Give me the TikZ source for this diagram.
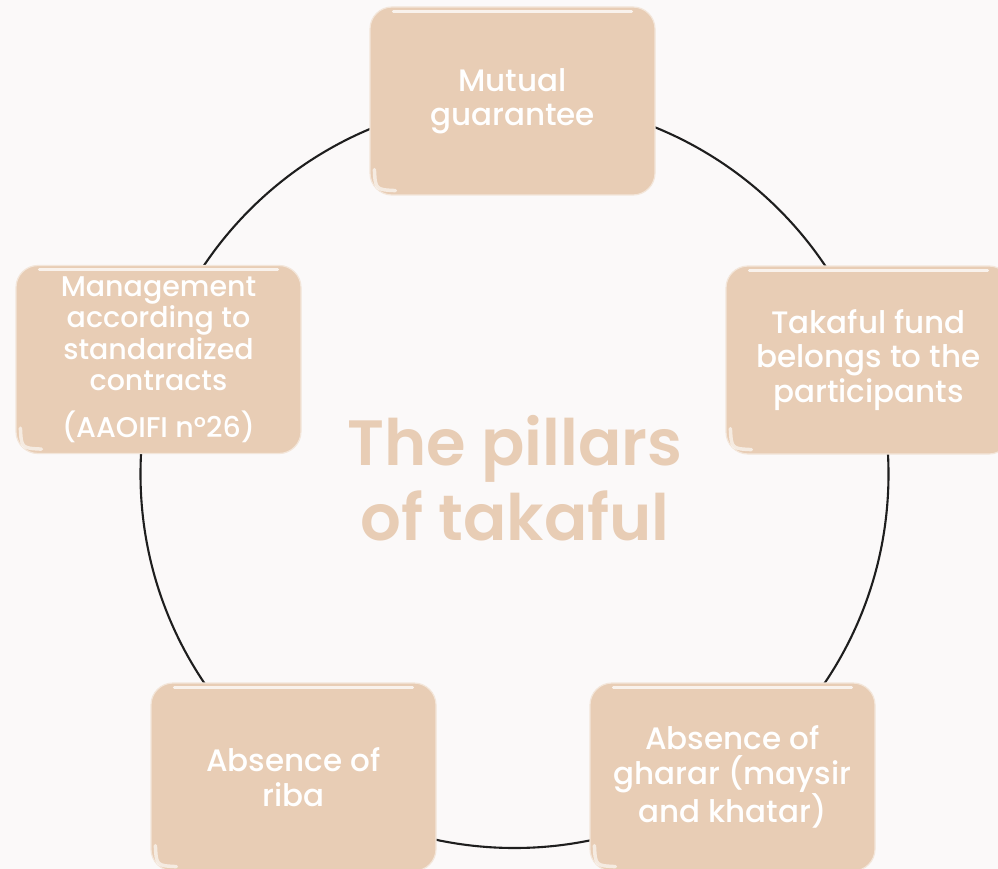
\documentclass[tikz,border=0pt]{standalone}
\usepackage{fontspec}
\setmainfont{Poppins}
\newfontfamily\medfont{Poppins Medium}
\newfontfamily\semifont{Poppins SemiBold}
\definecolor{bg}{HTML}{FBF9F9}
\definecolor{boxfill}{HTML}{E8CDB5}
\definecolor{titlecol}{HTML}{E8CDB5}
\definecolor{rim}{HTML}{F3E6DA}
\definecolor{ringcol}{HTML}{1E1E1E}
\begin{document}
\begin{tikzpicture}[x=1pt,y=-1pt,
  pillar/.style={draw=rim, line width=1.2pt, fill=boxfill, rounded corners=22pt,
    minimum width=285pt, minimum height=188pt, inner sep=0pt, align=center,
    text=white, font=\medfont\fontsize{31}{34.5}\selectfont},
  smallpillar/.style={pillar, font=\medfont\fontsize{28.5}{31.5}\selectfont},
  shine/.style={white, line width=3pt, opacity=0.75, line cap=round},
  gloss/.style={white, line width=3.5pt, opacity=0.6, line cap=round},
  ring/.style={ringcol, line width=2.1pt}]
\useasboundingbox (0,0) rectangle (998,869);
\clip (0,0) rectangle (998,869);
\fill[bg] (0,0) rectangle (998,869);
\coordinate (center) at (514.5,474);
\draw[ring] (center) circle[radius=374];
\node[font=\semifont\fontsize{64}{75}\selectfont, text=titlecol, align=center] (title) at (515,478) {The pillars\\of takaful};
\node[pillar] (top) at (512.5,101) {Mutual\\guarantee};
\node[pillar] (right) at (868.5,360) {Takaful fund\\belongs to the\\participants};
\node[pillar] (br) at (732.5,777) {Absence of\\gharar (maysir\\and khatar)};
\node[pillar] (bl) at (293.5,777) {Absence of\\riba};
\node[smallpillar] (left) at (158.5,359.5) {Management\\according to\\standardized\\contracts\\[15pt](AAOIFI n°26)};
\foreach \b in {top,right,br,bl,left}{
  \draw[shine] ([xshift=24pt,yshift=-5pt]\b.north west) -- ([xshift=-24pt,yshift=-5pt]\b.north east);
  \draw[gloss] ([xshift=5pt,yshift=26pt]\b.south west) .. controls ([xshift=6pt,yshift=6pt]\b.south west) .. ([xshift=26pt,yshift=5pt]\b.south west);
}
\end{tikzpicture}
\end{document}
